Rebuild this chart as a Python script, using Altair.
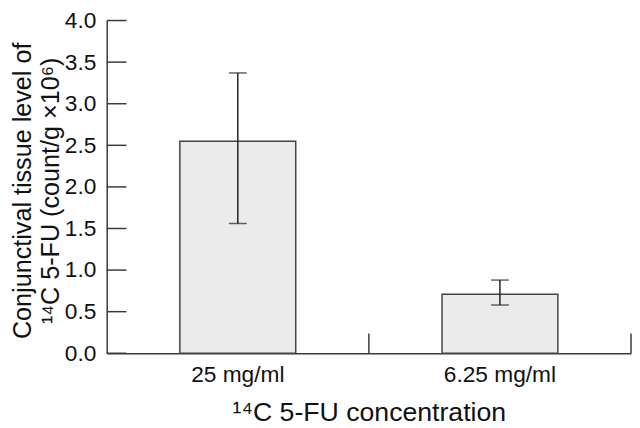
import altair as alt
import pandas as pd

# ---- data ----
categories = ["25 mg/ml", "6.25 mg/ml"]
means = [2.55, 0.71]
err_low = [1.56, 0.58]
err_high = [3.37, 0.88]
y_tick_values = [0.0, 0.5, 1.0, 1.5, 2.0, 2.5, 3.0, 3.5, 4.0]
band_edges = [1, 2]

y_title = ["Conjunctival tissue level of", "¹⁴C 5-FU (count/g ×10⁶)"]
x_title = "¹⁴C 5-FU concentration"

W, H = 531, 337
FONT = "Liberation Sans"
LINE = "#3a3a3a"

df = pd.DataFrame({"cat": categories, "mean": means, "lo": err_low, "hi": err_high})
ticks_df = pd.DataFrame({"v": y_tick_values})
edges_df = pd.DataFrame({"e": band_edges})

xscale = alt.Scale(domain=categories, paddingInner=0.558, paddingOuter=0.279)
yscale = alt.Scale(domain=[0, 4], nice=False, zero=True)

x_enc = alt.X(
    "cat:N",
    scale=xscale,
    sort=categories,
    title=x_title,
    axis=alt.Axis(
        labelAngle=0,
        ticks=False,
        tickSize=0,
        labelPadding=29,
        labelBaseline="alphabetic",
        labelFontSize=23,
        titleFontSize=27,
        titleFontWeight="normal",
        titleY=68,
        titleBaseline="alphabetic",
        domainColor=LINE,
        domainWidth=1.5,
    ),
)
y_enc = alt.Y(
    "mean:Q",
    scale=yscale,
    title=y_title,
    axis=alt.Axis(
        values=y_tick_values,
        format=".1f",
        ticks=False,
        tickSize=0,
        grid=False,
        labelPadding=11,
        labelFontSize=23,
        titleFontSize=25.5,
        titleFontWeight="normal",
        titleAngle=270,
        titleX=-77,
        titleY=172,
        titleAlign="center",
        titleBaseline="alphabetic",
        titleLineHeight=28,
        domainColor=LINE,
        domainWidth=1.5,
    ),
)

bars = alt.Chart(df).mark_bar(fill="#ebebeb", stroke="#444444", strokeWidth=1.5).encode(
    x=x_enc, y=y_enc
)
err = alt.Chart(df).mark_rule(color="#222222", strokeWidth=1.5).encode(
    x=alt.X("cat:N", scale=xscale, sort=categories),
    y=alt.Y("lo:Q", scale=yscale),
    y2="hi:Q",
)
cap_lo = alt.Chart(df).mark_tick(size=18, thickness=1.5, color="#222222").encode(
    x=alt.X("cat:N", scale=xscale, sort=categories),
    y=alt.Y("lo:Q", scale=yscale),
)
cap_hi = alt.Chart(df).mark_tick(size=18, thickness=1.5, color="#222222").encode(
    x=alt.X("cat:N", scale=xscale, sort=categories),
    y=alt.Y("hi:Q", scale=yscale),
)
yticks = alt.Chart(ticks_df).mark_rule(color=LINE, strokeWidth=1.5).encode(
    y=alt.Y("v:Q", scale=yscale),
    x=alt.value(0),
    x2=alt.value(20),
)

inner = alt.layer(bars, err, cap_lo, cap_hi, yticks)

xticks = alt.Chart(edges_df).mark_rule(color=LINE, strokeWidth=1.5).encode(
    x=alt.X("e:Q", scale=alt.Scale(domain=[0, 2], nice=False, zero=True), axis=None),
    y=alt.value(H - 20),
    y2=alt.value(H),
)

chart = (
    alt.layer(inner, xticks)
    .resolve_scale(x="independent")
    .properties(
        width=W,
        height=H,
        autosize=alt.AutoSizeParams(type="none"),
        padding={"left": 100, "top": 10, "right": 1, "bottom": 73},
    )
    .configure_view(stroke=None)
    .configure_axis(labelFont=FONT, titleFont=FONT, labelColor="#111111", titleColor="#111111")
)

chart.save("out.html", embed_options={"renderer": "svg", "actions": False})
